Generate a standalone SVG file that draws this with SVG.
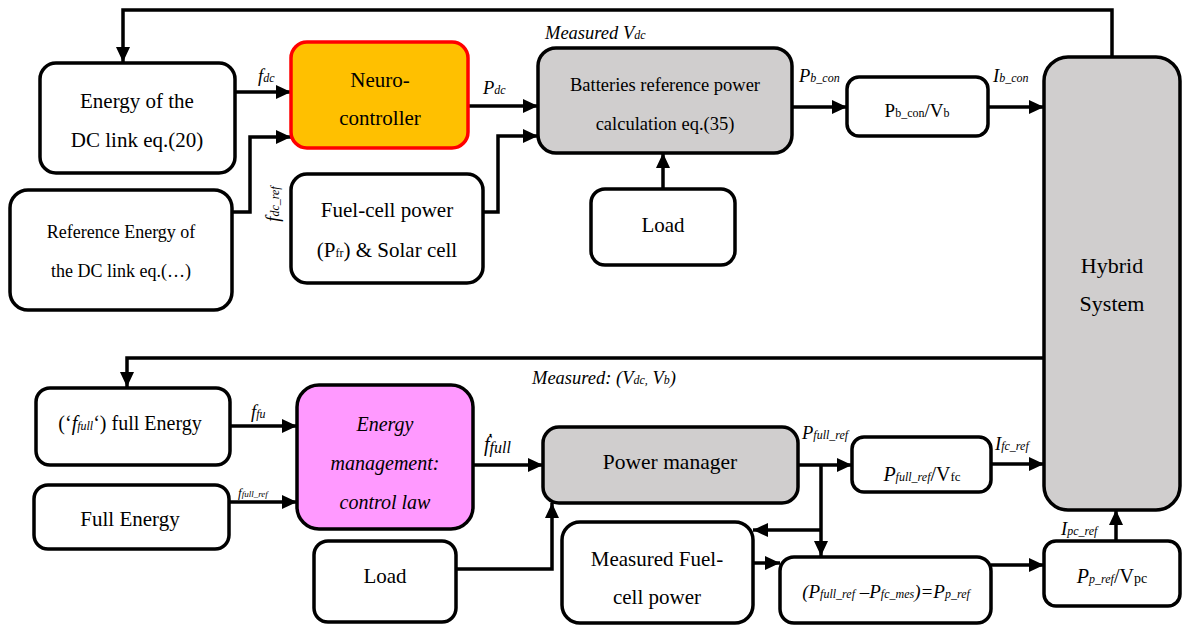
<svg xmlns="http://www.w3.org/2000/svg" width="1183" height="626" viewBox="0 0 1183 626">
<style>
  .box{stroke:#000;stroke-width:3.5;fill:#fff}
  .gray{fill:#D0CECE}
  .t{font-family:"Liberation Serif","DejaVu Serif","Times New Roman",serif;font-size:21px;fill:#000;text-anchor:middle}
  .it{font-style:italic}
  .lbl{font-family:"Liberation Serif","DejaVu Serif","Times New Roman",serif;font-size:18.5px;font-style:italic;fill:#000}
  .s{font-size:12px}
  .conn{fill:none;stroke:#000;stroke-width:3.5}
</style>
<defs>
  <marker id="ah" markerUnits="userSpaceOnUse" markerWidth="16" markerHeight="14" refX="15" refY="7" orient="auto">
    <path d="M0,0 L15,7 L0,14 Z" fill="#000"/>
  </marker>
</defs>
<rect width="1183" height="626" fill="#fff"/>

<g id="connectors">
  <path class="conn" d="M1112,57 V10 H123 V62" marker-end="url(#ah)"/>
  <path class="conn" d="M235,92 H291" marker-end="url(#ah)"/>
  <path class="conn" d="M232,212 H250 V137 H291" marker-end="url(#ah)"/>
  <path class="conn" d="M468,106 H538" marker-end="url(#ah)"/>
  <path class="conn" d="M483,212 H498 V136 H538" marker-end="url(#ah)"/>
  <path class="conn" d="M663,189 V153" marker-end="url(#ah)"/>
  <path class="conn" d="M792,107 H847" marker-end="url(#ah)"/>
  <path class="conn" d="M988,107 H1044" marker-end="url(#ah)"/>
  <path class="conn" d="M1044,358 H127 V387" marker-end="url(#ah)"/>
  <path class="conn" d="M230,426 H297" marker-end="url(#ah)"/>
  <path class="conn" d="M229,502 H297" marker-end="url(#ah)"/>
  <path class="conn" d="M473,465 H543" marker-end="url(#ah)"/>
  <path class="conn" d="M456,569 H552 V503" marker-end="url(#ah)"/>
  <path class="conn" d="M798,465 H852" marker-end="url(#ah)"/>
  <path class="conn" d="M821,465 V556" marker-end="url(#ah)"/>
  <path class="conn" d="M821,530 H753" marker-end="url(#ah)"/>
  <path class="conn" d="M753,563 H780" marker-end="url(#ah)"/>
  <path class="conn" d="M991,565 H1044" marker-end="url(#ah)"/>
  <path class="conn" d="M991,464 H1044" marker-end="url(#ah)"/>
  <path class="conn" d="M1116,541 V510" marker-end="url(#ah)"/>
  <text class="lbl" x="258" y="82">f<tspan class="s">dc</tspan></text>
  <text class="lbl" transform="translate(279,204) rotate(-90)" text-anchor="middle">f<tspan class="s">dc_ref</tspan></text>
  <text class="lbl" x="483" y="94">P<tspan class="s">dc</tspan></text>
  <text class="lbl" x="545" y="39">Measured V<tspan class="s">dc</tspan></text>
  <text class="lbl" x="799" y="82">P<tspan class="s">b_con</tspan></text>
  <text class="lbl" x="993" y="82">I<tspan class="s">b_con</tspan></text>
  <text class="lbl" x="532" y="384">Measured: (V<tspan class="s">dc,</tspan> V<tspan class="s">b</tspan>)</text>
  <text class="lbl" x="251" y="418">f<tspan class="s">fu</tspan></text>
  <text class="lbl" x="238" y="497" style="font-size:13px">f<tspan style="font-size:9px">full_ref</tspan></text>
  <text class="lbl" x="484" y="451" style="font-size:20px">ḟ<tspan style="font-size:16px" dy="2">full</tspan></text>
  <text class="lbl" x="802" y="439">P<tspan class="s">full_ref</tspan></text>
  <text class="lbl" x="995" y="450">I<tspan class="s">fc_ref</tspan></text>
  <text class="lbl" x="1061" y="535">I<tspan class="s">pc_ref</tspan></text>
</g>

<g id="dcEnergy">
  <rect class="box" x="40" y="63" width="195" height="110" rx="16"/>
  <text class="t" x="137" y="108">Energy of the</text>
  <text class="t" x="137" y="147">DC link eq.(20)</text>
</g>
<g id="neuro">
  <rect class="box" x="291" y="42" width="177" height="106" rx="16" style="fill:#FFC000;stroke:#FF0000"/>
  <text class="t" x="380" y="87">Neuro-</text>
  <text class="t" x="380" y="125">controller</text>
</g>
<g id="refEnergy">
  <rect class="box" x="10" y="190" width="222" height="120" rx="18"/>
  <text class="t" x="121" y="238" style="font-size:18px">Reference Energy of</text>
  <text class="t" x="121" y="277" style="font-size:18px">the DC link eq.(…)</text>
</g>
<g id="fuelcell">
  <rect class="box" x="291" y="174" width="192" height="109" rx="16"/>
  <text class="t" x="387" y="217">Fuel-cell power</text>
  <text class="t" x="387" y="257">(P<tspan class="s">fr</tspan>) &amp; Solar cell</text>
</g>
<g id="batteries">
  <rect class="box gray" x="538" y="48" width="254" height="105" rx="18"/>
  <text class="t" x="665" y="91" style="font-size:18.5px">Batteries reference power</text>
  <text class="t" x="665" y="130" style="font-size:18.5px">calculation eq.(35)</text>
</g>
<g id="load1">
  <rect class="box" x="591" y="189" width="144" height="76" rx="14"/>
  <text class="t" x="663" y="232">Load</text>
</g>
<g id="pbcon">
  <rect class="box" x="847" y="77" width="141" height="59" rx="12"/>
  <text class="t" x="917" y="117" style="font-size:19px">P<tspan class="s">b_con</tspan>/V<tspan class="s">b</tspan></text>
</g>
<g id="hybrid">
  <rect class="box gray" x="1044" y="57" width="136" height="453" rx="24"/>
  <text class="t" x="1112" y="273" style="font-size:22px">Hybrid</text>
  <text class="t" x="1112" y="311" style="font-size:22px">System</text>
</g>
<g id="fullEnergyF">
  <rect class="box" x="36" y="388" width="194" height="77" rx="14"/>
  <text class="t" x="130" y="430" style="font-size:20px">(‘<tspan class="it">f<tspan class="s">full</tspan></tspan>‘) full Energy</text>
</g>
<g id="fullEnergy">
  <rect class="box" x="34" y="485" width="195" height="64" rx="14"/>
  <text class="t" x="130" y="526">Full Energy</text>
</g>
<g id="energyMgmt">
  <rect class="box" x="297" y="385" width="176" height="144" rx="22" style="fill:#FF99FF"/>
  <text class="t it" x="385" y="431" style="font-size:20px">Energy</text>
  <text class="t it" x="385" y="470" style="font-size:20px">management:</text>
  <text class="t it" x="385" y="509" style="font-size:20px">control law</text>
</g>
<g id="powerMgr">
  <rect class="box gray" x="543" y="427" width="255" height="76" rx="16"/>
  <text class="t" x="670" y="469" style="font-size:21.5px">Power manager</text>
</g>
<g id="load2">
  <rect class="box" x="314" y="541" width="142" height="81" rx="14"/>
  <text class="t" x="385" y="583">Load</text>
</g>
<g id="measFC">
  <rect class="box" x="562" y="522" width="191" height="101" rx="18"/>
  <text class="t" x="657" y="566">Measured Fuel-</text>
  <text class="t" x="657" y="604">cell power</text>
</g>
<g id="pfullVfc">
  <rect class="box" x="852" y="437" width="139" height="55" rx="12"/>
  <text class="t" x="922" y="481" style="font-size:20px"><tspan class="it">P<tspan class="s">full_ref</tspan></tspan>/V<tspan style="font-size:13px">fc</tspan></text>
</g>
<g id="ppref">
  <rect class="box" x="780" y="557" width="211" height="66" rx="14"/>
  <text class="t it" x="886" y="598" style="font-size:19px">(P<tspan class="s">full_ref</tspan> –P<tspan class="s">fc_mes</tspan>)=P<tspan class="s">p_ref</tspan></text>
</g>
<g id="ppVpc">
  <rect class="box" x="1044" y="541" width="136" height="65" rx="12"/>
  <text class="t" x="1112" y="583" style="font-size:20px"><tspan class="it">P<tspan class="s">p_ref</tspan></tspan>/V<tspan style="font-size:14px">pc</tspan></text>
</g>
</svg>
